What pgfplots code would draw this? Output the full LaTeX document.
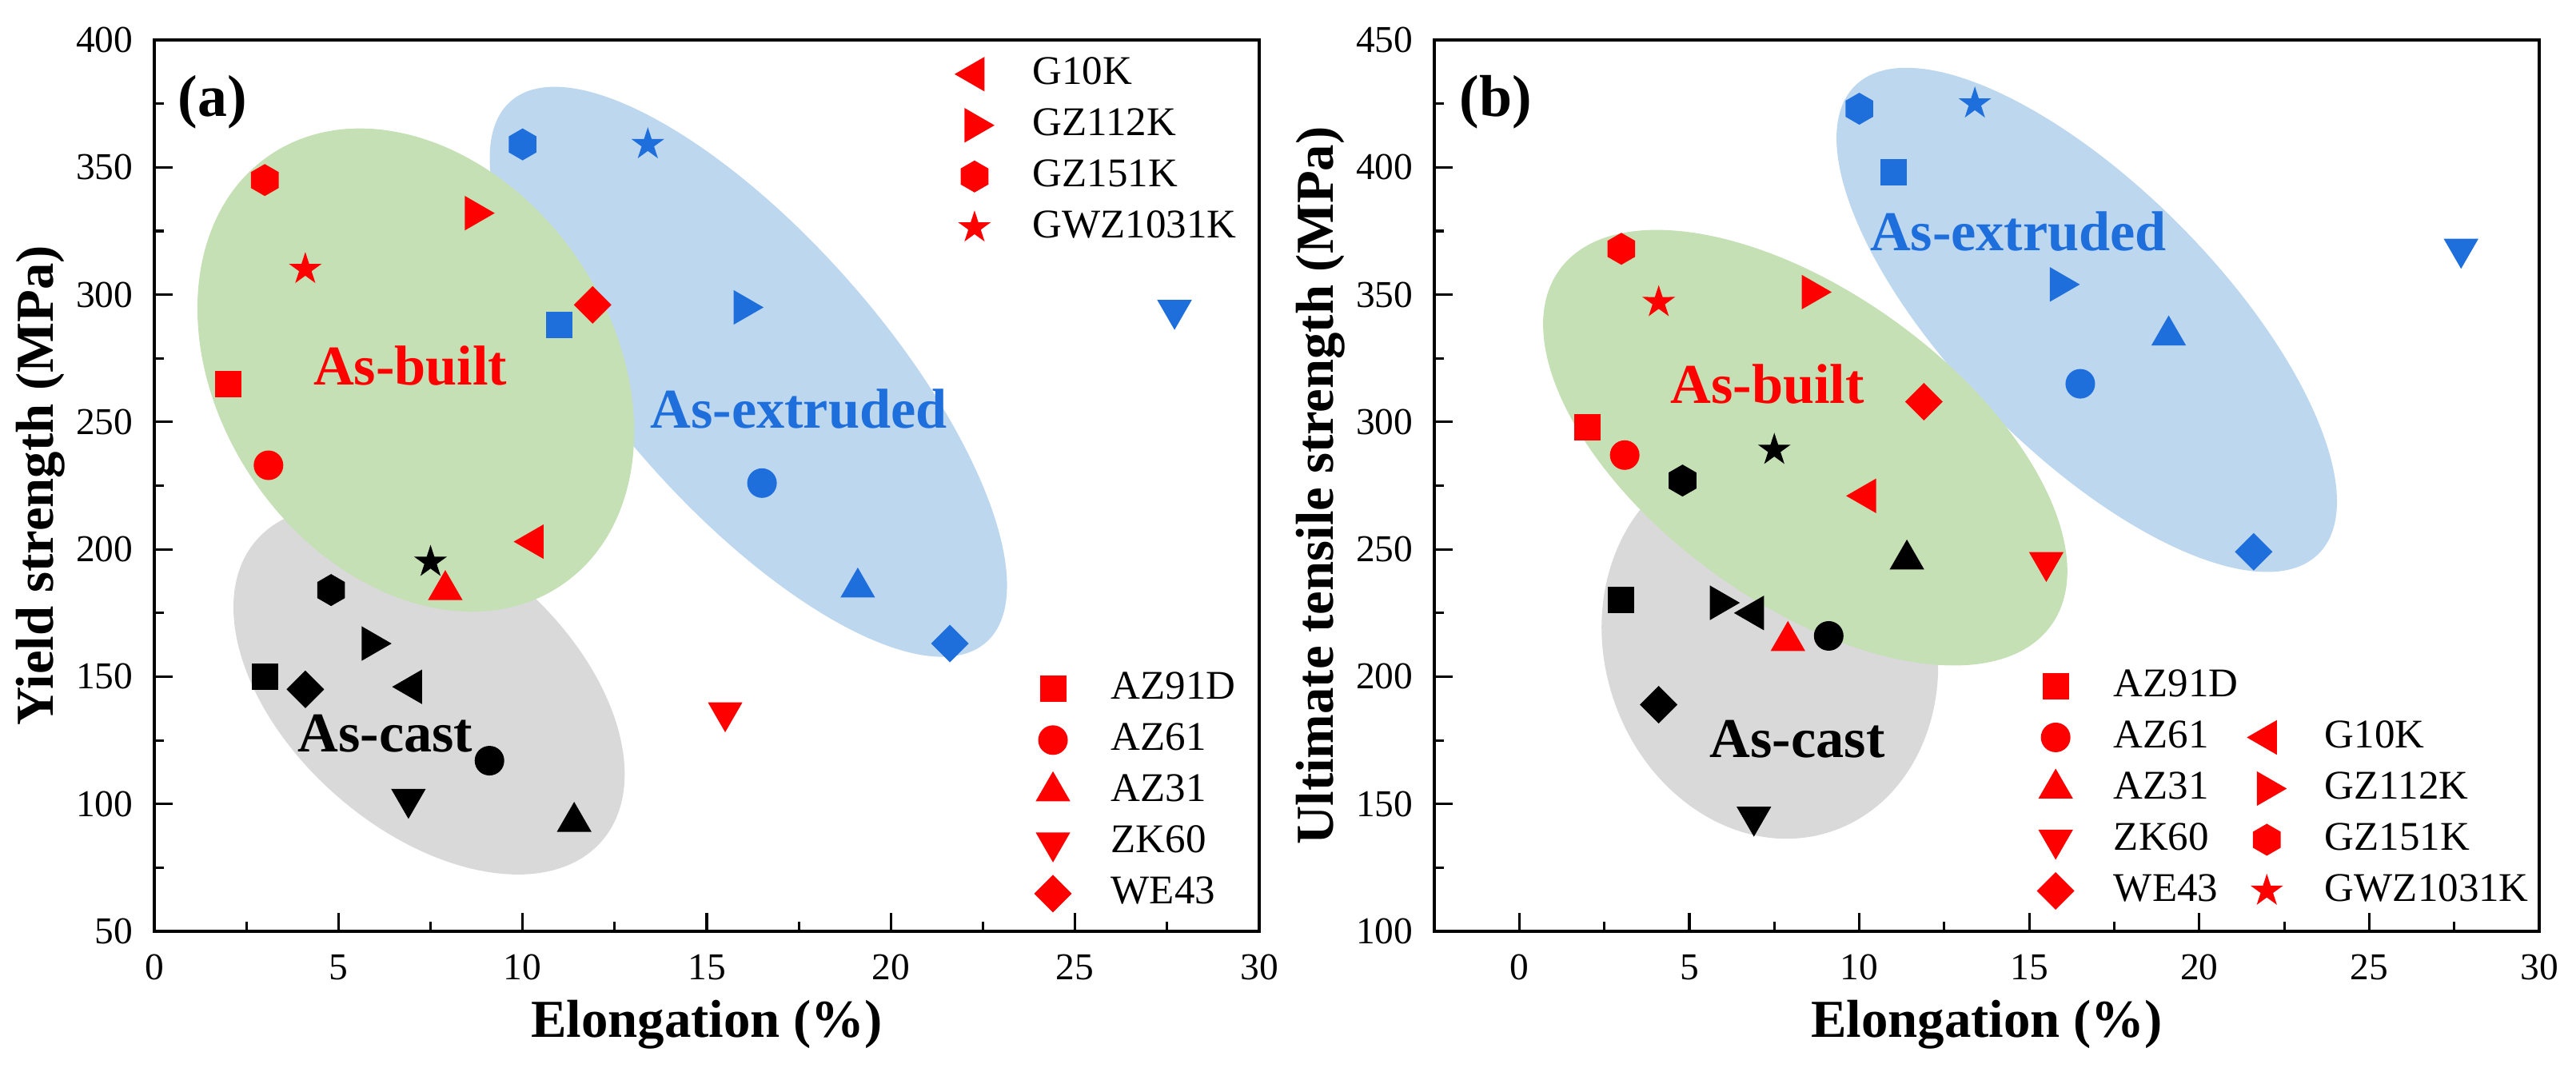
\documentclass[border=0pt]{standalone}
\usepackage{fontspec}
\setmainfont{Liberation Serif}
\usepackage{pgfplots}
\usepackage{pgfplotstable}
\pgfplotsset{compat=1.18}
\usetikzlibrary{shapes.geometric}

\definecolor{mred}{RGB}{255,0,0}
\definecolor{mblue}{RGB}{30,111,220}
\definecolor{egreen}{RGB}{197,224,180}
\definecolor{eblue}{RGB}{189,215,238}
\definecolor{egray}{RGB}{217,217,217}

% filled marks, fixed sizes
\pgfdeclareplotmark{sq}{\pgfpathrectangle{\pgfpoint{-0.165cm}{-0.165cm}}{\pgfpoint{0.33cm}{0.33cm}}\pgfusepathqfill}
\pgfdeclareplotmark{circ}{\pgfpathcircle{\pgfpointorigin}{0.185cm}\pgfusepathqfill}
\pgfdeclareplotmark{tri}{\pgfpathmoveto{\pgfpointpolar{90}{0.25cm}}\pgfpathlineto{\pgfpointpolar{210}{0.25cm}}\pgfpathlineto{\pgfpointpolar{330}{0.25cm}}\pgfpathclose\pgfusepathqfill}
\pgfdeclareplotmark{trid}{\pgfpathmoveto{\pgfpointpolar{270}{0.25cm}}\pgfpathlineto{\pgfpointpolar{30}{0.25cm}}\pgfpathlineto{\pgfpointpolar{150}{0.25cm}}\pgfpathclose\pgfusepathqfill}
\pgfdeclareplotmark{tril}{\pgfpathmoveto{\pgfpointpolar{180}{0.25cm}}\pgfpathlineto{\pgfpointpolar{300}{0.25cm}}\pgfpathlineto{\pgfpointpolar{60}{0.25cm}}\pgfpathclose\pgfusepathqfill}
\pgfdeclareplotmark{trir}{\pgfpathmoveto{\pgfpointpolar{0}{0.25cm}}\pgfpathlineto{\pgfpointpolar{120}{0.25cm}}\pgfpathlineto{\pgfpointpolar{240}{0.25cm}}\pgfpathclose\pgfusepathqfill}
\pgfdeclareplotmark{diam}{\pgfpathmoveto{\pgfpointpolar{0}{0.235cm}}\pgfpathlineto{\pgfpointpolar{90}{0.235cm}}\pgfpathlineto{\pgfpointpolar{180}{0.235cm}}\pgfpathlineto{\pgfpointpolar{270}{0.235cm}}\pgfpathclose\pgfusepathqfill}
\pgfdeclareplotmark{hexa}{\pgfpathmoveto{\pgfpointpolar{90}{0.2cm}}\pgfpathlineto{\pgfpointpolar{150}{0.2cm}}\pgfpathlineto{\pgfpointpolar{210}{0.2cm}}\pgfpathlineto{\pgfpointpolar{270}{0.2cm}}\pgfpathlineto{\pgfpointpolar{330}{0.2cm}}\pgfpathlineto{\pgfpointpolar{30}{0.2cm}}\pgfpathclose\pgfusepathqfill}
\pgfdeclareplotmark{starf}{%
  \pgfpathmoveto{\pgfpointpolar{90}{0.215cm}}\pgfpathlineto{\pgfpointpolar{126}{0.082cm}}%
  \pgfpathlineto{\pgfpointpolar{162}{0.215cm}}\pgfpathlineto{\pgfpointpolar{198}{0.082cm}}%
  \pgfpathlineto{\pgfpointpolar{234}{0.215cm}}\pgfpathlineto{\pgfpointpolar{270}{0.082cm}}%
  \pgfpathlineto{\pgfpointpolar{306}{0.215cm}}\pgfpathlineto{\pgfpointpolar{342}{0.082cm}}%
  \pgfpathlineto{\pgfpointpolar{18}{0.215cm}}\pgfpathlineto{\pgfpointpolar{54}{0.082cm}}%
  \pgfpathclose\pgfusepathqfill}

% panel (a): yield strength
\pgfplotstableread{
x y alloy
2.0 265 AZ91D
3.1 233 AZ61
7.9 184 AZ31
15.5 136 ZK60
11.9 296 WE43
10.3 203 G10K
8.7 332 GZ112K
3.0 345 GZ151K
4.1 310 GWZ1031K
}\abuilt
\pgfplotstableread{
x y alloy
10.0 359 GZ151K
13.4 359 GWZ1031K
11.0 288 AZ91D
16.0 295 GZ112K
16.5 226 AZ61
19.1 185 AZ31
21.6 163 WE43
27.7 294 ZK60
}\aextr
\pgfplotstableread{
x y alloy
7.5 195 GWZ1031K
4.8 184 GZ151K
5.9 163 GZ112K
3.0 150 AZ91D
4.1 145 WE43
7.0 146 G10K
9.1 117 AZ61
6.9 102 ZK60
11.4 93 AZ31
}\acast

% panel (b): UTS
\pgfplotstableread{
x y alloy
2.0 298 AZ91D
3.1 287 AZ61
7.9 214 AZ31
15.5 245 ZK60
11.9 308 WE43
10.2 271 G10K
8.6 351 GZ112K
3.0 368 GZ151K
4.1 347 GWZ1031K
}\bbuilt
\pgfplotstableread{
x y alloy
10.0 423 GZ151K
13.4 425 GWZ1031K
11.0 398 AZ91D
15.9 354 GZ112K
19.1 334 AZ31
16.5 315 AZ61
21.6 249 WE43
27.7 368 ZK60
}\bextr
\pgfplotstableread{
x y alloy
7.5 289 GWZ1031K
4.8 277 GZ151K
11.4 246 AZ31
3.0 230 AZ91D
5.9 229 GZ112K
6.9 225 G10K
9.1 216 AZ61
4.1 189 WE43
6.9 145 ZK60
}\bcast

\pgfplotsset{
  alloys/.style={scatter, only marks, forget plot, scatter src=explicit symbolic,
    scatter/classes={AZ91D={mark=sq}, AZ61={mark=circ}, AZ31={mark=tri},
      ZK60={mark=trid}, WE43={mark=diam}, G10K={mark=tril}, GZ112K={mark=trir},
      GZ151K={mark=hexa}, GWZ1031K={mark=starf}}},
  panel/.style={
    scale only axis, width=13.82cm, height=11.15cm, anchor=south west,
    set layers,
    axis line style={line width=0.9pt}, tick style={line width=0.9pt, black},
    tick align=inside, xtick pos=bottom, ytick pos=left,
    major tick length=0.23cm, minor tick length=0.12cm,
    minor x tick num=1, minor y tick num=1,
    /pgf/number format/assume math mode=true,
    tick label style={font=\rmfamily\fontsize{13.5}{16}\selectfont},
    xticklabel style={anchor=base, yshift=-0.6cm},
    yticklabel style={anchor=east, inner xsep=0pt, xshift=-0.26cm},
    label style={font=\rmfamily\fontsize{19}{22}\selectfont\bfseries},
    xlabel style={at={(axis description cs:0.5,-0.119)}, anchor=base},
    ylabel style={at={(axis description cs:-0.103,0.5)}, anchor=center},
    legend image code/.code={\path (0cm,0cm) (1.07cm,0cm); \draw[##1] plot coordinates {(0.35cm,0cm)};},
    legend cell align=left,
    legend style={draw=none, fill=none, inner sep=0pt, column sep=0pt,
      font=\rmfamily\fontsize{14.5}{17}\selectfont,
      nodes={inner xsep=0pt, inner ysep=0pt, text height=0.45cm, text depth=0.19cm}},
  }
}

\begin{document}
\begin{tikzpicture}

% ---------------- (a) ----------------
\begin{axis}[panel, at={(1.93cm,1.70cm)},
  xmin=0, xmax=30, ymin=50, ymax=400,
  xtick={0,5,...,30}, ytick={50,100,...,400},
  xlabel={Elongation (\%)}, ylabel={Yield strength (MPa)},
  legend style={at={(axis description cs:0.787,0.013)}, anchor=south west}]
\begin{pgfonlayer}{axis background}
\node[ellipse, fill=eblue, inner sep=0pt, minimum width=9.01cm, minimum height=3.39cm, rotate=-48.7] at (axis cs:16.13,269.7) {};
\node[ellipse, fill=egray, inner sep=0pt, minimum width=5.73cm, minimum height=3.50cm, rotate=-41.1] at (axis cs:7.46,144.5) {};
\node[ellipse, fill=egreen, inner sep=0pt, minimum width=6.50cm, minimum height=4.91cm, rotate=-55.8] at (axis cs:7.1,270.4) {};
\end{pgfonlayer}
\addplot[alloys, color=mblue] table[x=x, y=y, meta=alloy] {\aextr};
\addplot[alloys, color=black] table[x=x, y=y, meta=alloy] {\acast};
\addplot[alloys, color=mred] table[x=x, y=y, meta=alloy] {\abuilt};
\node[font=\fontsize{21}{24}\selectfont\bfseries] at (axis cs:1.58,375.5) {(a)};
\node[font=\fontsize{20}{24}\selectfont\bfseries, text=mred] at (axis cs:6.95,272) {As-built};
\node[font=\fontsize{20}{24}\selectfont\bfseries, text=mblue] at (axis cs:17.5,255) {As-extruded};
\node[font=\fontsize{20}{24}\selectfont\bfseries] at (axis cs:6.27,127.6) {As-cast};
\addlegendimage{mred, mark=sq}\addlegendentry{AZ91D}
\addlegendimage{mred, mark=circ}\addlegendentry{AZ61}
\addlegendimage{mred, mark=tri}\addlegendentry{AZ31}
\addlegendimage{mred, mark=trid}\addlegendentry{ZK60}
\addlegendimage{mred, mark=diam}\addlegendentry{WE43}
\end{axis}

% second legend of (a)
\begin{axis}[panel, at={(1.93cm,1.70cm)}, hide axis,
  xmin=0, xmax=30, ymin=50, ymax=400,
  legend style={at={(axis description cs:0.716,0.991)}, anchor=north west}]
\addplot[draw=none, forget plot] coordinates {(0,50) (30,400)};
\addlegendimage{mred, mark=tril}\addlegendentry{G10K}
\addlegendimage{mred, mark=trir}\addlegendentry{GZ112K}
\addlegendimage{mred, mark=hexa}\addlegendentry{GZ151K}
\addlegendimage{mred, mark=starf}\addlegendentry{GWZ1031K}
\end{axis}

% ---------------- (b) ----------------
\begin{axis}[panel, at={(17.94cm,1.70cm)},
  xmin=-2.5, xmax=30, ymin=100, ymax=450,
  xtick={0,5,...,30}, ytick={100,150,...,450},
  xlabel={Elongation (\%)}, ylabel={Ultimate tensile strength (MPa)},
  legend columns=2,
  legend style={at={(axis description cs:0.536,0.016)}, anchor=south west}]
\begin{pgfonlayer}{axis background}
\node[ellipse, fill=eblue, inner sep=0pt, minimum width=8.24cm, minimum height=3.32cm, rotate=-45.3] at (axis cs:16.69,340.1) {};
\node[ellipse, fill=egray, inner sep=0pt, minimum width=4.88cm, minimum height=4.13cm, rotate=-71.8] at (axis cs:7.37,211.9) {};
\node[ellipse, fill=egreen, inner sep=0pt, minimum width=7.59cm, minimum height=3.88cm, rotate=-35.9] at (axis cs:8.41,289.9) {};
\end{pgfonlayer}
\addplot[alloys, color=mblue] table[x=x, y=y, meta=alloy] {\bextr};
\addplot[alloys, color=black] table[x=x, y=y, meta=alloy] {\bcast};
\addplot[alloys, color=mred] table[x=x, y=y, meta=alloy] {\bbuilt};
\node[font=\fontsize{21}{24}\selectfont\bfseries] at (axis cs:-0.69,425.5) {(b)};
\node[font=\fontsize{20}{24}\selectfont\bfseries, text=mred] at (axis cs:7.3,315) {As-built};
\node[font=\fontsize{20}{24}\selectfont\bfseries, text=mblue] at (axis cs:14.68,374.7) {As-extruded};
\node[font=\fontsize{20}{24}\selectfont\bfseries] at (axis cs:8.18,175.6) {As-cast};
\addlegendimage{mred, mark=sq}\addlegendentry{AZ91D}
\addlegendimage{empty legend}\addlegendentry{}
\addlegendimage{mred, mark=circ}\addlegendentry{AZ61}
\addlegendimage{mred, mark=tril}\addlegendentry{G10K}
\addlegendimage{mred, mark=tri}\addlegendentry{AZ31}
\addlegendimage{mred, mark=trir}\addlegendentry{GZ112K}
\addlegendimage{mred, mark=trid}\addlegendentry{ZK60}
\addlegendimage{mred, mark=hexa}\addlegendentry{GZ151K}
\addlegendimage{mred, mark=diam}\addlegendentry{WE43}
\addlegendimage{mred, mark=starf}\addlegendentry{GWZ1031K}
\end{axis}
\path (0,0) rectangle (32.22cm,13.35cm);
\end{tikzpicture}
\end{document}
